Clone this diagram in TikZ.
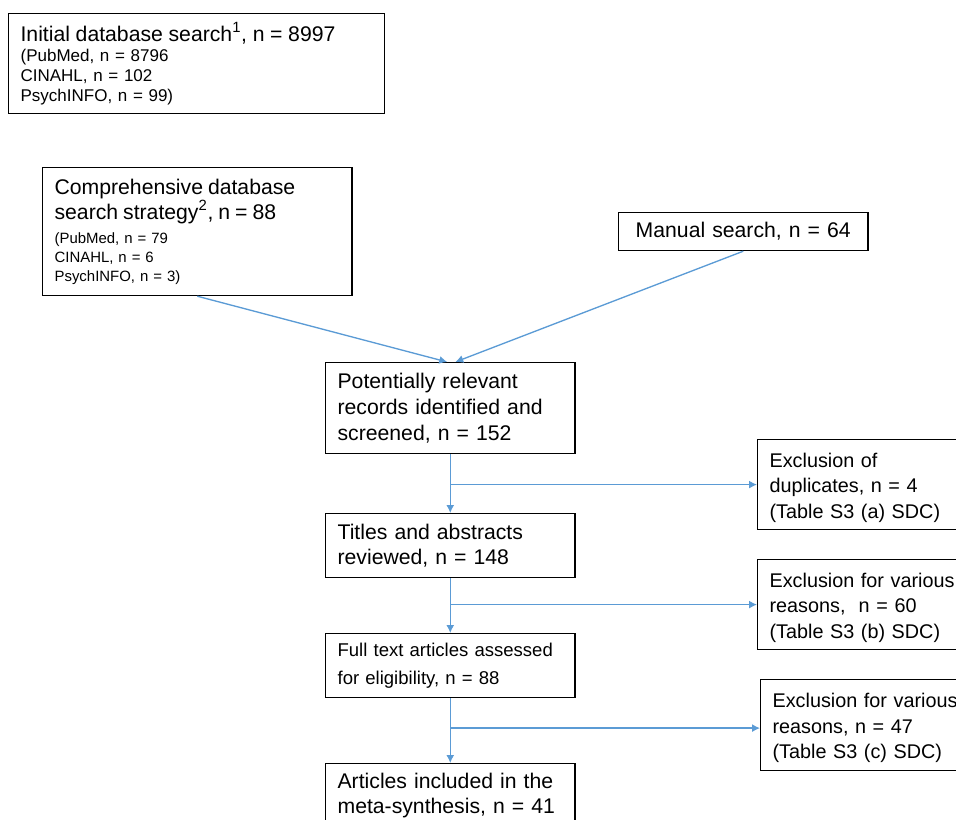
\documentclass[tikz,border=0pt]{standalone}
\usepackage{fontspec}
\setmainfont{Liberation Sans}
\usepackage{tikz}
\usetikzlibrary{arrows.meta,positioning}
\usepackage{xcolor}
\definecolor{FlowBlue}{HTML}{5B9BD5}
\newcommand{\bigtxt}{\fontsize{15.9}{19.2}\selectfont}
\newcommand{\smalltxt}{\fontsize{12.75}{15}\selectfont}
\newcommand{\tinytxt}{\fontsize{11.2}{14.25}\selectfont}
\newcommand{\excltxt}{\fontsize{14.85}{19.3}\selectfont}
\newcommand{\fulltxt}{\fontsize{13.9}{21}\selectfont}
\newcommand{\exclstrut}{\rule{0pt}{15.3pt}}

\begin{document}
\begin{tikzpicture}[x=0.75pt,y=-0.75pt,
  box/.style={draw=black,line width=0.9pt,anchor=north west,align=left,inner xsep=9pt,inner ysep=0pt},
  exclbox/.style={box,text width=147pt,font=\excltxt,execute at begin node=\exclstrut},
  flow/.style={draw=FlowBlue,line width=1pt,-{Latex[length=6pt,width=6pt]}}]
  \clip (0,0) rectangle (956,820);
  \node[box,text width=264pt,minimum height=75pt,font=\smalltxt] (init) at (8,13)
    {\bigtxt Initial database search\textsuperscript{1}, n = 8997\\[0pt]\smalltxt (PubMed, n = 8796\\ CINAHL, n = 102\\ PsychINFO, n = 99)};
  \node[box,text width=214pt,minimum height=96pt,font=\tinytxt] (comp) at (42,167)
    {\bigtxt Comprehensive database\\[-0.5pt] search strategy\textsuperscript{2}, n = 88\\[4pt]\tinytxt (PubMed, n = 79\\ CINAHL, n = 6\\ PsychINFO, n = 3)};
  \node[box,align=center,text width=169pt,minimum height=28.5pt,font=\bigtxt] (manual) at (618,212) {Manual search, n = 64};
  \node[box,text width=169pt,minimum height=68.25pt,font=\bigtxt] (potent) at (325,362)
    {Potentially relevant\\ records identified and\\ screened, n = 152};
  \node[box,text width=169pt,minimum height=48pt,font=\bigtxt] (titles) at (325,513)
    {Titles and abstracts\\ reviewed, n = 148};
  \node[box,text width=169pt,minimum height=48pt,font=\fulltxt] (full) at (325,633)
    {Full text articles assessed\\ for eligibility, n = 88};
  \node[box,text width=169pt,minimum height=48pt,font=\bigtxt] (incl) at (325,763)
    {Articles included in the\\ meta-synthesis, n = 41};
  \node[exclbox,minimum height=67.5pt] (excla) at (757,439)
    {Exclusion of\\ duplicates, n = 4\\ (Table S3 (a) SDC)};
  \node[exclbox,minimum height=67.5pt] (exclb) at (757,559)
    {Exclusion for various\\ reasons,~ n = 60\\ (Table S3 (b) SDC)};
  \node[exclbox,minimum height=68.25pt] (exclc) at (760,679)
    {Exclusion for various\\ reasons, n = 47\\ (Table S3 (c) SDC)};
  \coordinate (cin) at ([yshift=-2.25pt]exclc.west);
  \draw[flow] (comp.south) -- ([xshift=-2.25pt]potent.north);
  \draw[flow] (manual.south) -- ([xshift=3.75pt]potent.north);
  \draw[flow] (potent.south) -- (titles.north);
  \draw[flow] (potent.south |- excla.west) -- (excla.west);
  \draw[flow] (titles.south) -- (full.north);
  \draw[flow] (titles.south |- exclb.west) -- (exclb.west);
  \draw[flow] (full.south) -- (incl.north);
  \draw[flow] (full.south |- cin) -- (cin);
\end{tikzpicture}
\end{document}
